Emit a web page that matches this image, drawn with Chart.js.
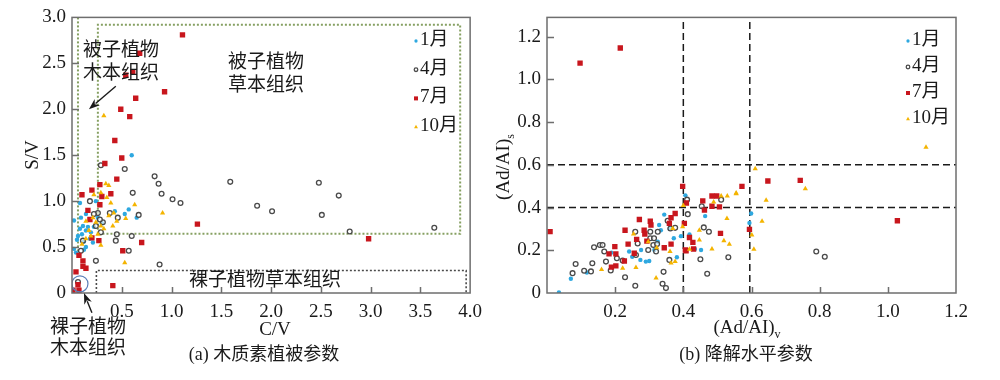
<!DOCTYPE html>
<html><head><meta charset="utf-8">
<script src="https://cdn.jsdelivr.net/npm/chart.js@4.4.1/dist/chart.umd.min.js"></script>
<style>
html,body{margin:0;padding:0;background:#fff;width:1000px;height:380px;overflow:hidden}
#a{position:absolute;left:0;top:0;width:490px;height:380px}
#b{position:absolute;left:490px;top:0;width:510px;height:380px}
</style></head><body>
<div id="a"><canvas id="ca"></canvas></div>
<div id="b"><canvas id="cb"></canvas></div>
<script>
// ---------- data ----------
const seriesLabels = ['1月', '4月', '7月', '10月'];

// (a) lignin vegetation parameters: [C/V, S/V]
const janA = [[0.60,1.50],[0.08,0.98],[0.24,1.00],[0.57,0.91],[0.43,0.89],[0.53,0.86],[0.65,0.82],[0.02,0.79],[0.09,0.82],[0.14,0.86],[0.26,0.82],[0.11,0.73],[0.14,0.68],[0.06,0.62],[0.10,0.64],[0.18,0.59],[0.21,0.55],[0.14,0.50],[0.12,0.47],[0.02,0.48],[0.04,0.44],[0.08,0.70],[0.16,0.72],[0.05,0.58],[0.19,0.66],[0.12,0.56],[0.30,0.76],[0.22,0.72]];
const aprA = [[0.29,1.39],[0.53,1.35],[0.83,1.27],[0.87,1.19],[1.59,1.21],[2.48,1.20],[2.68,1.06],[1.86,0.95],[2.01,0.89],[2.51,0.85],[2.79,0.67],[3.64,0.71],[0.61,1.09],[0.90,1.08],[1.01,1.02],[1.09,0.98],[0.38,0.87],[0.46,0.82],[0.67,0.85],[0.45,0.64],[0.44,0.57],[0.60,0.62],[0.57,0.46],[0.24,0.35],[0.88,0.31],[0.26,0.87],[0.22,0.86],[0.18,1.00],[0.29,0.66],[0.31,0.77],[0.11,0.57],[0.09,0.46],[0.06,0.12],[0.24,0.73],[0.28,0.80]];
const julA = [[0.01,0.03],[0.07,0.03],[0.06,0.09],[0.41,0.08],[0.04,0.23],[0.14,0.27],[0.11,0.29],[0.11,0.35],[0.07,0.41],[0.51,0.46],[0.70,0.55],[0.20,0.60],[0.27,0.57],[1.26,0.75],[2.98,0.59],[0.18,0.80],[0.16,0.90],[0.28,0.96],[0.30,1.05],[0.10,1.07],[0.39,1.08],[0.20,1.12],[0.28,1.18],[0.45,1.24],[0.33,1.41],[0.50,1.47],[0.43,1.66],[0.58,1.92],[0.49,2.00],[0.64,2.12],[0.93,2.19],[0.54,2.37],[0.61,2.41],[0.68,2.61],[1.11,2.81]];
const octA = [[0.32,1.93],[0.34,1.19],[0.37,1.17],[0.22,1.07],[0.35,1.04],[0.29,1.09],[0.39,0.98],[0.63,0.96],[0.91,0.87],[0.54,0.81],[0.42,0.87],[0.45,0.78],[0.41,0.73],[0.29,0.73],[0.32,0.70],[0.17,0.68],[0.14,0.59],[0.29,0.52],[0.53,0.33],[0.14,0.78],[0.21,0.82],[0.24,0.77],[0.37,0.84],[0.19,0.62],[0.10,0.53],[0.26,0.64]];

// (b) degradation parameters: [(Ad/Al)v, (Ad/Al)s]
const janB = [[0.035,0.003],[0.070,0.067],[0.117,0.096],[0.189,0.189],[0.241,0.194],[0.274,0.155],[0.276,0.201],[0.290,0.147],[0.300,0.150],[0.315,0.201],[0.325,0.240],[0.329,0.318],[0.334,0.294],[0.344,0.367],[0.372,0.256],[0.381,0.167],[0.393,0.266],[0.406,0.457],[0.464,0.360],[0.418,0.274],[0.434,0.206],[0.452,0.201],[0.599,0.372],[0.594,0.328],[0.250,0.170],[0.360,0.300]];
const aprB = [[0.075,0.093],[0.084,0.136],[0.109,0.104],[0.129,0.101],[0.133,0.139],[0.138,0.214],[0.155,0.225],[0.163,0.225],[0.173,0.147],[0.168,0.194],[0.187,0.105],[0.205,0.163],[0.222,0.152],[0.229,0.074],[0.259,0.034],[0.261,0.178],[0.259,0.287],[0.266,0.232],[0.297,0.201],[0.303,0.256],[0.314,0.256],[0.303,0.287],[0.320,0.194],[0.312,0.225],[0.323,0.229],[0.325,0.287],[0.339,0.043],[0.342,0.099],[0.349,0.023],[0.354,0.338],[0.359,0.155],[0.362,0.302],[0.376,0.305],[0.413,0.369],[0.411,0.437],[0.454,0.406],[0.511,0.437],[0.460,0.307],[0.475,0.287],[0.450,0.158],[0.532,0.167],[0.470,0.090],[0.790,0.194],[0.815,0.170]];
const julB = [[0.009,0.287],[0.097,1.076],[0.215,1.147],[0.182,0.183],[0.189,0.121],[0.202,0.127],[0.199,0.217],[0.202,0.183],[0.227,0.150],[0.229,0.294],[0.238,0.229],[0.256,0.186],[0.263,0.251],[0.271,0.344],[0.285,0.294],[0.287,0.276],[0.293,0.243],[0.303,0.336],[0.305,0.318],[0.344,0.212],[0.359,0.326],[0.364,0.352],[0.364,0.229],[0.376,0.372],[0.406,0.201],[0.398,0.499],[0.409,0.421],[0.403,0.326],[0.418,0.260],[0.428,0.237],[0.408,0.198],[0.430,0.206],[0.457,0.431],[0.484,0.454],[0.498,0.454],[0.506,0.403],[0.462,0.388],[0.484,0.406],[0.509,0.279],[0.572,0.499],[0.648,0.524],[0.743,0.527],[0.594,0.298],[1.028,0.338]];
const octB = [[0.222,0.116],[0.254,0.276],[0.261,0.119],[0.297,0.240],[0.320,0.070],[0.322,0.212],[0.364,0.140],[0.361,0.194],[0.369,0.302],[0.376,0.147],[0.398,0.310],[0.511,0.454],[0.529,0.454],[0.555,0.468],[0.489,0.426],[0.528,0.349],[0.447,0.294],[0.447,0.248],[0.519,0.245],[0.535,0.228],[0.418,0.205],[0.484,0.206],[0.555,0.465],[0.611,0.581],[0.643,0.434],[0.631,0.336],[0.601,0.271],[0.607,0.205],[0.758,0.488],[1.112,0.682],[0.160,0.110],[0.400,0.410]];

// axis settings
const xTicksA = {min: 0, max: 4, step: 0.5};
const yTicksA = {min: 0, max: 3, step: 0.5};
const xTicksB = {min: 0, max: 1.2, step: 0.2};
const yTicksB = {min: 0, max: 1.29, step: 0.2};

// region outlines in (a) and threshold lines in (b)
const boxHerbAngio = [[0.26,0.645],[0.26,2.92],[3.90,2.92],[3.90,0.645],[0.26,0.645]];
const lineWoodAngio = [[0.06,3.0],[0.06,0.45]];
const boxHerbGymno = [[0.245,0],[0.245,0.245],[3.96,0.245],[3.96,0]];
const circleWoodGymno = [[0.08,0.10]];
const vLine1 = [[0.4,0],[0.4,1.29]];
const vLine2 = [[0.595,0],[0.595,1.29]];
const hLine1 = [[0,0.6],[1.2,0.6]];
const hLine2 = [[0,0.4],[1.2,0.4]];

// ---------- styling ----------
const LATIN = '"Liberation Serif","Times New Roman",serif';
const FONT = '"Liberation Serif","Noto Sans CJK SC",serif';
const FRAME = '#6e6e6e';
const styles = [
  {pointStyle:'circle', radius:2.2, bg:'#2ea8e0', border:'#2ea8e0', bw:0},
  {pointStyle:'circle', radius:2.4, bg:'rgba(255,255,255,0.6)', border:'#4a4a4a', bw:1.3},
  {pointStyle:'rect', radius:3.8, bg:'#c8161d', border:'#c8161d', bw:0},
  {pointStyle:'triangle', radius:3.0, bg:'#f4b400', border:'#f4b400', bw:0}
];
const toXY = arr => arr.map(p => ({x:p[0], y:p[1]}));

function pointSets(series) {
  return series.map((arr, i) => ({
    type: 'scatter', label: seriesLabels[i], data: toXY(arr),
    pointStyle: styles[i].pointStyle, pointRadius: styles[i].radius,
    pointBackgroundColor: styles[i].bg, pointBorderColor: styles[i].border,
    pointBorderWidth: styles[i].bw, order: 4 - i
  }));
}
function lineSet(arr, color, dash, width) {
  return {type:'line', label:'', data: toXY(arr), borderColor: color, borderDash: dash,
    borderWidth: width, pointRadius: 0, fill: false, showLine: true, order: 10, tension: 0};
}
function fmt(step, showZeroLabel) {
  return v => {
    const r = v / step;
    if (Math.abs(r - Math.round(r)) > 1e-6) return '';
    if (Math.abs(v) < 1e-9) return showZeroLabel ? '0' : '';
    return v.toFixed(1);
  };
}

function drawText(ctx, txt, x, y, size, align) {
  ctx.font = size + 'px ' + FONT;
  ctx.textAlign = align || 'center';
  ctx.textBaseline = 'middle';
  ctx.fillStyle = '#1a1a1a';
  ctx.fillText(txt, x, y);
}
function drawSub(ctx, main, sub, x, y, size, rotate) {
  ctx.save();
  ctx.translate(x, y);
  if (rotate) ctx.rotate(-Math.PI/2);
  ctx.font = size + 'px ' + LATIN;
  const w1 = ctx.measureText(main).width;
  ctx.font = Math.round(size*0.65) + 'px ' + LATIN;
  const w2 = ctx.measureText(sub).width;
  const x0 = -(w1 + w2) / 2;
  ctx.fillStyle = '#1a1a1a';
  ctx.textBaseline = 'middle';
  ctx.textAlign = 'left';
  ctx.font = size + 'px ' + LATIN;
  ctx.fillText(main, x0, 0);
  ctx.font = Math.round(size*0.65) + 'px ' + LATIN;
  ctx.fillText(sub, x0 + w1, size*0.35);
  ctx.restore();
}
function drawArrow(ctx, x1, y1, x2, y2) {
  const ang = Math.atan2(y2 - y1, x2 - x1);
  const L = 11, W = 4;
  ctx.save();
  ctx.strokeStyle = '#1a1a1a'; ctx.fillStyle = '#1a1a1a'; ctx.lineWidth = 1.4;
  ctx.beginPath(); ctx.moveTo(x1, y1);
  ctx.lineTo(x2 - Math.cos(ang)*L*0.8, y2 - Math.sin(ang)*L*0.8); ctx.stroke();
  ctx.beginPath();
  ctx.moveTo(x2, y2);
  ctx.lineTo(x2 - Math.cos(ang)*L + Math.sin(ang)*W, y2 - Math.sin(ang)*L - Math.cos(ang)*W);
  ctx.lineTo(x2 - Math.cos(ang)*L*0.7, y2 - Math.sin(ang)*L*0.7);
  ctx.lineTo(x2 - Math.cos(ang)*L - Math.sin(ang)*W, y2 - Math.sin(ang)*L + Math.cos(ang)*W);
  ctx.closePath(); ctx.fill();
  ctx.restore();
}
function frameAndTicks(chart, xs, ys) {
  const {ctx, chartArea: a} = chart;
  const sx = chart.scales.x, sy = chart.scales.y;
  ctx.save();
  ctx.strokeStyle = FRAME; ctx.lineWidth = 1.5;
  ctx.strokeRect(a.left, a.top, a.right - a.left, a.bottom - a.top);
  ctx.beginPath();
  sx.ticks.forEach(t => {
    const r = t.value / xs.step;
    if (Math.abs(r - Math.round(r)) > 1e-6) return;
    if (t.value <= xs.min + 1e-9 || t.value >= xs.max - 1e-9) return;
    const px = Math.round(sx.getPixelForValue(t.value)) + 0.5;
    ctx.moveTo(px, a.bottom); ctx.lineTo(px, a.bottom - 6);
  });
  sy.ticks.forEach(t => {
    const r = t.value / ys.step;
    if (Math.abs(r - Math.round(r)) > 1e-6) return;
    if (t.value <= ys.min + 1e-9 || t.value >= ys.max - 0.05) return;
    const py = Math.round(sy.getPixelForValue(t.value)) + 0.5;
    ctx.moveTo(a.left, py); ctx.lineTo(a.left + 7, py);
  });
  ctx.stroke();
  ctx.restore();
}
function drawLegend(ctx, x, y0, dy) {
  styles.forEach((s, i) => {
    const y = y0 + i * dy;
    ctx.save();
    ctx.fillStyle = s.bg; ctx.strokeStyle = s.border; ctx.lineWidth = s.bw;
    Chart.helpers.drawPoint(ctx, {pointStyle: s.pointStyle, radius: s.radius * 0.75, rotation: 0, borderWidth: s.bw}, x, y + 1);
    ctx.restore();
    drawText(ctx, seriesLabels[i], x + 4, y, 19, 'left');
  });
}

function scaleOpts(t, showZero, pad, fitKey, fitVal) {
  return {
    type: 'linear', min: t.min, max: t.max,
    ticks: {stepSize: t.step, includeBounds: false, autoSkip: false, maxRotation: 0,
      color: '#1a1a1a', font: {family: LATIN, size: 19}, padding: pad,
      callback: fmt(t.step, showZero)},
    grid: {display: false, drawTicks: false},
    border: {display: false},
    afterFit: s => { s[fitKey] = fitVal; }
  };
}

// ---------- chart (a) ----------
const decorA = {
  id: 'decorA',
  afterDraw(chart) {
    const ctx = chart.ctx, sx = chart.scales.x, sy = chart.scales.y;
    frameAndTicks(chart, xTicksA, yTicksA);
    drawText(ctx, '被子植物', 121, 51, 19);
    drawText(ctx, '木本组织', 121, 74, 19);
    drawText(ctx, '被子植物', 266, 63, 19);
    drawText(ctx, '草本组织', 266, 86, 19);
    drawText(ctx, '裸子植物草本组织', 265, 281, 19);
    drawText(ctx, '裸子植物', 88, 328, 19);
    drawText(ctx, '木本组织', 88, 349, 19);
    drawText(ctx, 'C/V', 275, 330, 19);
    drawText(ctx, '(a) 木质素植被参数', 264, 355, 18);
    ctx.save(); ctx.translate(33, 155); ctx.rotate(-Math.PI/2);
    drawText(ctx, 'S/V', 0, 0, 19); ctx.restore();
    drawArrow(ctx, sx.getPixelForValue(0.44), sy.getPixelForValue(2.25), sx.getPixelForValue(0.17), sy.getPixelForValue(2.0));
    drawArrow(ctx, sx.getPixelForValue(0.20), sy.getPixelForValue(-0.215), sx.getPixelForValue(0.12), sy.getPixelForValue(0.0));
    drawLegend(ctx, 416, 40, 28.7);
  }
};
new Chart(document.getElementById('ca'), {
  type: 'scatter',
  data: {datasets: [
    lineSet(boxHerbAngio, '#86a062', [2, 2], 2),
    lineSet(lineWoodAngio, '#86a062', [2, 2], 2),
    lineSet(boxHerbGymno, '#4a4a4a', [2, 2], 1.6),
    ...pointSets([janA, aprA, julA, octA]),
    {type: 'scatter', label: '', data: toXY(circleWoodGymno), pointRadius: 8, pointBorderWidth: 1.2,
      pointBorderColor: '#5a7fb8', pointBackgroundColor: 'rgba(0,0,0,0)', order: 0}
  ]},
  options: {
    responsive: true, maintainAspectRatio: false, animation: false,
    layout: {padding: {left: 0, right: 18, top: 16, bottom: 0}},
    plugins: {legend: {display: false}, tooltip: {enabled: false}},
    scales: {x: scaleOpts(xTicksA, false, 8, 'height', 87), y: scaleOpts(yTicksA, true, 6, 'width', 72)}
  },
  plugins: [decorA]
});

// ---------- chart (b) ----------
const decorB = {
  id: 'decorB',
  afterDraw(chart) {
    const ctx = chart.ctx;
    frameAndTicks(chart, xTicksB, yTicksB);
    drawSub(ctx, '(Ad/AI)', 'v', 257, 328, 19, false);
    drawText(ctx, '(b) 降解水平参数', 256, 355, 18);
    drawSub(ctx, '(Ad/AI)', 's', 14, 167, 19, true);
    drawLegend(ctx, 418, 40, 26);
  }
};
new Chart(document.getElementById('cb'), {
  type: 'scatter',
  data: {datasets: [
    lineSet(vLine1, '#1a1a1a', [7, 4], 1.5),
    lineSet(vLine2, '#1a1a1a', [7, 4], 1.5),
    lineSet(hLine1, '#1a1a1a', [7, 4], 1.5),
    lineSet(hLine2, '#1a1a1a', [7, 4], 1.5),
    ...pointSets([janB, aprB, julB, octB])
  ]},
  options: {
    responsive: true, maintainAspectRatio: false, animation: false,
    layout: {padding: {left: 0, right: 44, top: 16, bottom: 0}},
    plugins: {legend: {display: false}, tooltip: {enabled: false}},
    scales: {x: scaleOpts(xTicksB, false, 8, 'height', 87), y: scaleOpts(yTicksB, true, 6, 'width', 57)}
  },
  plugins: [decorB]
});
</script>
</body></html>
